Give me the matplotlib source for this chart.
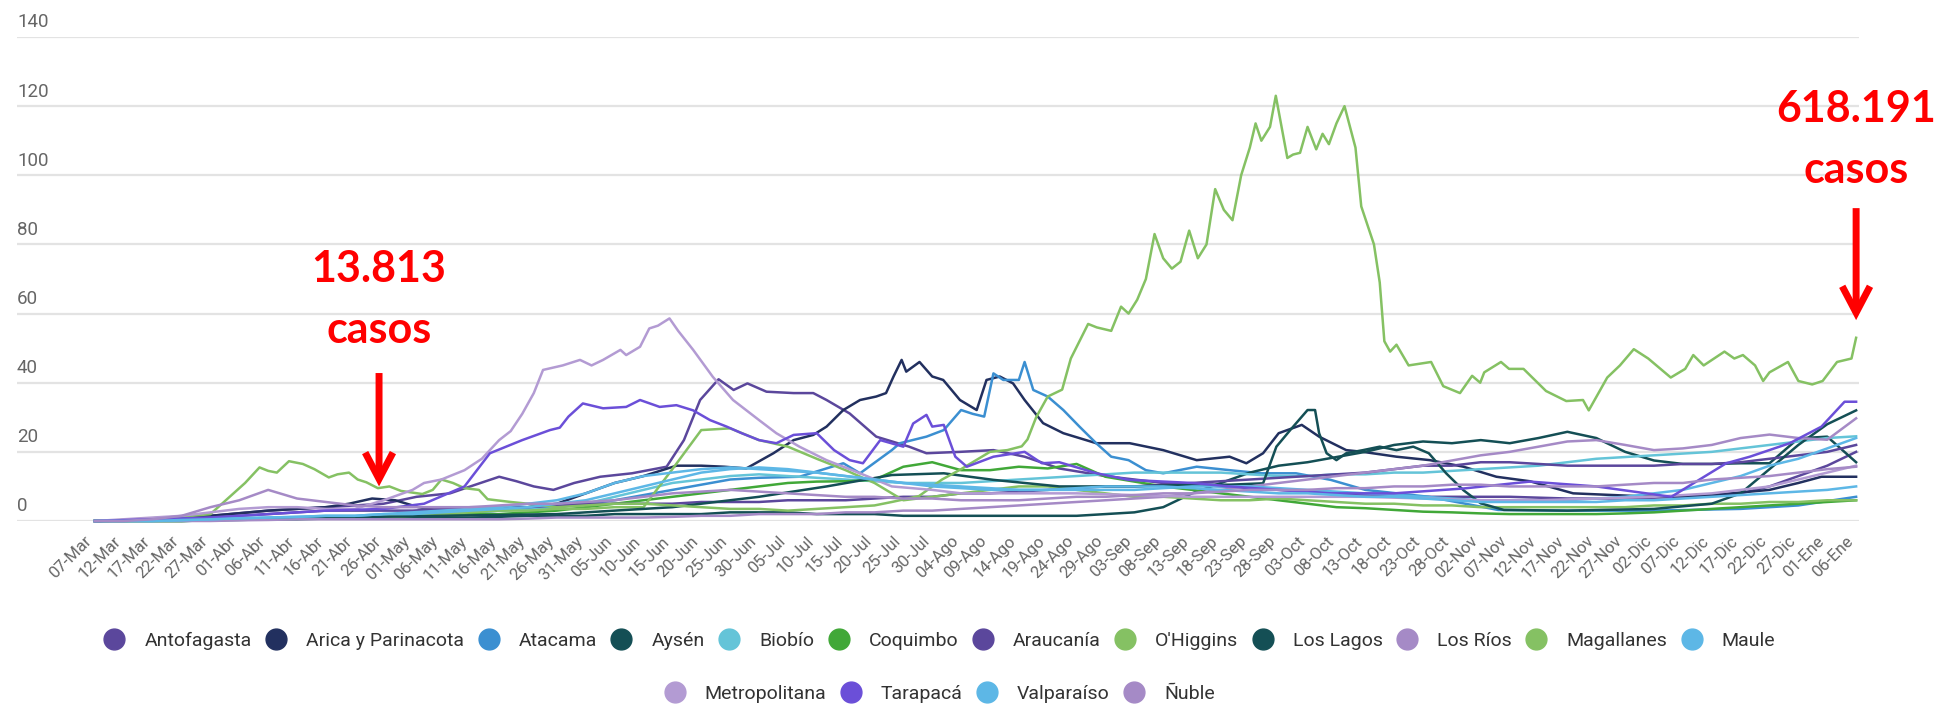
import matplotlib
matplotlib.use("Agg")
import matplotlib.pyplot as plt
from matplotlib.lines import Line2D
from matplotlib import font_manager as fm

# ---------------- data ----------------
etiquetas_x = ["07-Mar", "12-Mar", "17-Mar", "22-Mar", "27-Mar", "01-Abr", "06-Abr", "11-Abr", "16-Abr",
               "21-Abr", "26-Abr", "01-May", "06-May", "11-May", "16-May", "21-May", "26-May", "31-May",
               "05-Jun", "10-Jun", "15-Jun", "20-Jun", "25-Jun", "30-Jun", "05-Jul", "10-Jul", "15-Jul",
               "20-Jul", "25-Jul", "30-Jul", "04-Ago", "09-Ago", "14-Ago", "19-Ago", "24-Ago", "29-Ago",
               "03-Sep", "08-Sep", "13-Sep", "18-Sep", "23-Sep", "28-Sep", "03-Oct", "08-Oct", "13-Oct",
               "18-Oct", "23-Oct", "28-Oct", "02-Nov", "07-Nov", "12-Nov", "17-Nov", "22-Nov", "27-Nov",
               "02-Dic", "07-Dic", "12-Dic", "17-Dic", "22-Dic", "27-Dic", "01-Ene", "06-Ene"]
dias_etiquetas = list(range(0, 306, 5))
dias = list(range(0, 306, 5))  # common 5-day grid for the smaller series

y_ticks = [0, 20, 40, 60, 80, 100, 120, 140]

regiones = ["Antofagasta", "Arica y Parinacota", "Atacama", "Aysén", "Biobío", "Coquimbo", "Araucanía",
            "O'Higgins", "Los Lagos", "Los Ríos", "Magallanes", "Maule", "Metropolitana", "Tarapacá",
            "Valparaíso", "Ñuble"]
colores = ["#5b479c", "#22305f", "#3b8fd1", "#144f55", "#64c4d8", "#41a838", "#5b479c", "#85c163",
           "#144f55", "#a58ac6", "#85c163", "#5db7e6", "#b39bd3", "#6b4fd8", "#5db7e6", "#a58ac6"]

antofagasta_dias = [0, 10, 20, 30, 40, 45, 50, 55.7, 61.5, 65, 70, 73, 76, 79.4, 83, 87.5, 93, 99, 102, 104.8,
                    108, 110.6, 113, 116.3, 121, 124.4, 126.7, 130.7, 135.3, 141, 144, 149.8, 155.6, 161, 167,
                    175, 185, 195, 205, 215, 225, 235, 245, 255, 265, 275, 285, 290, 295, 300, 305]
antofagasta = [0, 0.5, 1.5, 3, 4, 4.5, 5, 7, 8, 10, 12.8, 11.5, 10, 9, 11, 12.8, 13.8, 15.7, 23.4, 35,
               41, 37.9, 39.8, 37.4, 37, 37, 35, 31.1, 24.4, 21.5, 19.6, 20, 20.5, 18.6, 15.2,
               13, 11, 10, 9, 8, 7, 7, 7, 6.5, 6.5, 7, 8, 10, 13, 16, 20]

arica_dias = [0, 10, 20, 30, 40, 44, 48, 52, 56, 60, 70, 80, 85, 90, 95, 100.7, 105, 109, 112.8, 117.5, 121,
              124.4, 126.7, 129.6, 132.5, 135.3, 137, 138.3, 139.7, 140.5, 142.8, 145, 146.9, 149.8, 152.7,
              154.4, 156.7, 159, 161, 164.2, 167.7, 173.4, 179.2, 185, 190.8, 196.5, 199.4, 202.3, 205, 209,
              212, 216.7, 219.6, 225.4, 231.2, 237, 242.7, 248.5, 256, 270, 280, 290, 295, 299, 305]
arica = [0, 0.5, 1.5, 3, 4, 5, 6.5, 6, 4, 3, 3, 5, 8, 11, 13, 16, 16, 15.7, 15.2, 19.6, 23.4,
         24.9, 27.3, 32.1, 35, 36, 37, 41.8, 46.6, 43.2, 46, 41.8, 40.8, 35, 32.1,
         40.8, 41.8, 39.8, 35, 28.3, 25.4, 22.5, 22.5, 20.5, 17.6, 18.6, 16.7, 19.6, 25.4, 27.8,
         24.4, 20.5, 20, 18.6, 17.6, 15.7, 12.8, 11.5, 8, 7, 7.5, 9, 11, 12.8, 12.8]

atacama_dias = [0, 20, 40, 60, 80, 90, 100, 110, 115, 122, 129.6, 132.5, 138, 139.4, 144, 147, 150, 152, 154,
                155.6, 157.3, 160, 161, 162.5, 165, 167.7, 170.5, 173.4, 176, 179, 182, 185, 190.8, 196.5,
                202, 208, 214, 220, 231, 243, 255, 270, 285, 295, 305]
atacama = [0, 0.5, 1, 2, 4, 6, 9, 12, 12.5, 12.8, 16.7, 13.8, 20.5, 22.5, 24.4, 26.3, 32.1, 31, 30.2,
           42.7, 40.8, 40.8, 46, 37.9, 36, 32.1, 27.3, 22.5, 18.6, 17.6, 14.7, 13.8, 15.7, 14.7,
           13.8, 13.8, 11.9, 9, 7, 3.2, 3, 3, 3.5, 4.5, 7]

aysen = [0, 0, 0, 0, 0.2, 0.3, 0.5, 0.5, 0.7, 0.8, 1, 1, 1, 1, 1.2, 1.5, 1.5, 1.5, 2, 2,
         2, 2, 2.5, 2.5, 2.5, 2, 2, 2, 1.5, 1.5, 1.5, 1.5, 1.5, 1.5, 1.5, 2, 2.5, 4, 8, 11,
         14, 16, 17, 18.5, 20, 22, 23, 22.5, 23.4, 22.5, 24, 25.8, 24, 20, 17.5, 16.5, 16.5, 16.7, 16.7, 23.9,
         24.4, 17]

biobio = [0, 0, 0, 0, 0.2, 0.5, 0.8, 1, 1, 1.2, 1.5, 2, 2, 2.5, 3, 3.5, 4, 5, 7, 9,
          11, 12, 13, 13.5, 13, 12.5, 12, 11.5, 11, 11, 11, 11.5, 12, 12.5, 13, 13.5, 14, 14, 14, 14,
          13.5, 13, 13, 13.5, 13.5, 14, 14, 14.5, 15, 15.5, 16, 17, 18, 18.5, 19, 19.5, 20, 21, 22, 23,
          24, 24.5]

coquimbo = [0, 0, 0, 0, 0.3, 0.5, 0.7, 1, 1, 1, 1.2, 1.5, 1.5, 2, 2, 2.5, 3, 4, 5, 6,
            7, 8, 9, 10, 11, 11.4, 11.5, 11.9, 15.7, 17, 14.7, 14.7, 15.7, 15.2, 16.5, 12.8, 11.4, 10, 9, 8,
            7, 6, 5, 4, 3.7, 3.2, 2.7, 2.5, 2.2, 2, 2, 2, 2, 2.2, 2.5, 3, 3.5, 4, 4.5, 5,
            5.5, 6]

araucania = [0, 0, 0.3, 0.5, 1, 1.5, 2, 2.5, 3, 3, 3, 3, 3.5, 4, 4, 4, 4.5, 5, 5, 5,
             5, 5.5, 5.5, 5.5, 6, 6, 6, 6.5, 7, 7, 8, 8, 8.5, 9, 9.5, 10, 10, 10.5, 11, 11.5,
             12, 12.5, 13, 13.5, 14, 15, 16, 16, 17, 17, 16.5, 16, 16, 16, 16, 16.5, 16.5, 17, 18, 19,
             20, 22]

ohiggins = [0, 0, 0, 0, 0.2, 0.5, 0.8, 1, 1, 1, 1.2, 1.5, 2, 2.5, 3, 3, 3.5, 3.5, 4, 4,
            15, 26.3, 26.8, 23.4, 21.5, 18, 14.7, 11, 6, 7, 8, 9, 10, 10, 9, 8, 7, 7, 6.5, 6,
            6, 6.5, 6, 5.5, 5, 5, 4.5, 4.5, 4, 4, 4, 4, 4, 4, 4.5, 4.5, 5, 5, 5.5, 5.5,
            6, 6]

los_lagos_dias = [0, 20, 40, 60, 80, 100, 115, 126.7, 138, 147, 155.6, 167, 180, 190, 196.5, 202.3, 204.6, 207,
                  210, 211.3, 212, 213.3, 215, 216.7, 219.6, 222.5, 225.4, 228.3, 231, 234, 237, 240, 244,
                  255, 270, 280, 285, 290, 295, 300, 305]
los_lagos = [0, 0.5, 1, 1.5, 2, 4, 7, 10, 13.3, 13.8, 11.9, 10, 10, 10.5, 10.5, 10.9, 21.5, 26.3,
             32.1, 32.1, 25.4, 19.6, 17.6, 19.6, 20.5, 21.5, 20.5, 21.5, 19.6, 13.8, 8.9, 5.1, 3.2,
             3, 3.5, 5, 8, 15, 22, 28, 32]

los_rios = [0, 0, 0, 0, 0, 0.2, 0.3, 0.5, 0.5, 0.5, 0.5, 0.5, 0.5, 0.5, 0.5, 0.7, 1, 1, 1, 1,
            1.2, 1.5, 1.5, 2, 2, 2, 2.5, 2.5, 3, 3, 3.5, 4, 4.5, 5, 5.5, 6, 6.5, 7, 8, 9,
            10, 11, 12, 13, 14, 15, 16, 17.5, 19, 20, 21.5, 23, 23.4, 22, 20.5, 21, 22, 24, 25, 24,
            23.5, 29.7]

magallanes_dias = [0, 5, 10, 15, 20, 22, 24, 26, 28.5, 30, 31.5, 33.6, 36, 38, 40.5, 42, 44, 45.5, 47, 49, 51,
                   53, 56.7, 58.5, 60, 62, 64, 66.5, 68, 72, 75, 80, 85, 90, 95, 100, 105, 110, 115, 120,
                   125, 130, 135, 138, 142.7, 146.7, 150, 155, 158, 160.5, 161.5, 163, 165, 167.5, 169, 172,
                   173.5, 176, 177.7, 179, 180.5, 182, 183.5, 185, 186.5, 188, 189.5, 191, 192.5, 194, 195.5,
                   197, 198.5, 200, 201, 202, 203.5, 204.5, 206.5, 207.5, 208.7, 210, 211.5, 212.6, 213.7,
                   215, 216.4, 218.3, 219.3, 221.5, 222.5, 223.3, 224.3, 225.4, 227.5, 231.4, 233.5, 236.4,
                   238.5, 239.9, 240.6, 243.5, 244.9, 247.4, 251.3, 254.8, 257.7, 258.7, 261.9, 264.1, 266.5,
                   269, 272.9, 275.4, 276.8, 278.6, 282.2, 283.9, 285.4, 287.5, 288.9, 290, 293.2, 295, 297.4,
                   299.2, 301.7, 304.2, 305]
magallanes = [0, 0.3, 0.8, 1.2, 2, 5, 8, 11, 15.5, 14.5, 14, 17.3, 16.5, 15, 12.6, 13.5, 14, 12, 11.2, 9.5, 10,
              8.7, 7.8, 9, 12, 11, 9.5, 9, 6.3, 5.5, 5, 4, 4.5, 5, 5, 4.5, 4, 3.5, 3.5, 3,
              3.5, 4, 4.5, 5.5, 7.2, 12, 15, 20, 20.5, 21.6, 23.6, 30, 36, 38, 47, 57,
              56, 55, 62, 60, 64, 70, 83, 76, 73, 75, 84, 76, 80, 96, 90,
              87, 100, 108, 115, 110, 114, 123, 105, 106, 106.5, 114, 107.5, 112, 109,
              115, 120, 108, 91, 80, 69, 52, 49, 51, 45, 46, 39, 37,
              42, 40, 43, 46, 44, 44, 37.6, 34.7, 35, 32, 41.5, 45, 49.7,
              47, 41.5, 44, 48, 45, 49, 47, 48, 45, 40.5, 43, 46, 40.5, 39.5,
              40.5, 46, 47, 53]

maule = [0, 0, 0, 0.2, 0.5, 0.8, 1, 1.2, 1.5, 1.5, 2, 2, 2.5, 3, 3.5, 4, 5, 6, 8, 10,
         12, 14, 15, 15.5, 15, 14, 13, 12, 11, 10.5, 10, 9.5, 9, 9, 9, 9, 9, 9.5, 10, 10,
         10, 9.5, 9, 8.5, 8, 7.5, 7, 6.5, 6, 6, 6, 6, 6.5, 7, 8, 9, 11, 13, 16, 18,
         21, 24]

metropolitana_dias = [0, 5, 10, 15, 20, 25, 30, 35, 40, 45, 50, 55, 57, 60, 64, 67, 70, 72, 74, 76, 77.6, 81, 84,
                      86, 88, 91, 92, 94.4, 96, 97.5, 99.5, 101, 103.6, 107, 110.5, 115, 118, 122, 126.7, 132.5,
                      138, 145, 150, 160, 170, 180, 190, 200, 210, 220, 230, 240, 250, 260, 270, 280, 290, 295,
                      300, 305]
metropolitana = [0, 0.5, 1, 1.5, 2.5, 3.5, 4, 4, 3.5, 3.5, 6, 9, 11, 12, 14.7, 18, 23.4, 26, 31, 37, 43.7, 45,
                 46.6, 45, 46.6, 49.5, 48, 50.4, 55.7, 56.5, 58.6, 55, 49.5, 41.7, 35, 29.2, 25.4, 21.5, 17.6,
                 13.8, 10, 9, 8, 8, 8, 7.5, 7, 7, 7, 7, 6.5, 6, 6, 6.5, 7, 8, 10, 12, 14, 16]

tarapaca_dias = [0, 10, 20, 30, 40, 50, 57, 64, 68.4, 74, 78.8, 80.5, 82, 84.5, 88, 92, 94.4, 97.8, 100.7, 103.6,
                 106.5, 109.4, 112, 115, 118, 121, 125, 128, 130.7, 133, 136, 140, 141.7, 144, 145, 147, 149, 151,
                 155.6, 161, 164, 167, 173.5, 179, 190, 196.5, 205, 214, 225, 237, 248.5, 260, 273, 282.5,
                 286.6, 293.5, 299, 303, 305]
tarapaca = [0, 0.5, 1, 2, 3, 3.5, 5, 10, 19.6, 23.4, 26.3, 27, 30.2, 34, 32.6, 33, 35, 33, 33.5, 32,
            29.2, 27.3, 25.4, 23.4, 22.5, 24.9, 25.4, 20.5, 17.6, 16.7, 23.4, 21.5, 28.2, 30.7, 27.3, 27.8,
            18.6, 15.7, 18.6, 20, 16.7, 17, 13.8, 11.9, 11, 10, 9, 8, 8, 9.4, 11.4, 10, 7, 16.7, 18.6, 22.5,
            27.3, 34.5, 34.5]

valparaiso = [0, 0, 0, 0.3, 0.5, 0.8, 1, 1.2, 1.5, 1.5, 2, 2.5, 3, 3.5, 4, 5, 6, 8, 11, 13,
              14, 15, 15.5, 15, 14.5, 14, 13, 12, 11, 10, 9.5, 9, 9, 9, 9.5, 10, 10, 10, 9.5, 9,
              8.5, 8, 8, 7.5, 7, 7, 6.5, 6, 5.5, 5.5, 5.5, 5.5, 5.5, 6, 6, 6.5, 7, 7.5, 8, 8.5,
              9, 10]

nuble = [0, 0, 0.5, 1.5, 4, 6, 9, 6.5, 5.5, 4.5, 4, 4, 4, 4, 4.5, 5, 5, 5.5, 6, 7,
         8, 8.5, 9, 8.5, 8, 7.5, 7, 7, 6.5, 6.5, 6, 6, 6, 6.5, 7, 7, 7.5, 8, 8, 8.5,
         9, 9, 9, 9.5, 9.5, 10, 10, 10.5, 10.5, 10, 10, 10, 10, 10.5, 11, 11, 12, 12.5, 13, 14,
         15, 15.7]

series = [
    (antofagasta_dias, antofagasta), (arica_dias, arica), (atacama_dias, atacama), (dias, aysen),
    (dias, biobio), (dias, coquimbo), (dias, araucania), (dias, ohiggins), (los_lagos_dias, los_lagos),
    (dias, los_rios), (magallanes_dias, magallanes), (dias, maule), (metropolitana_dias, metropolitana),
    (tarapaca_dias, tarapaca), (dias, valparaiso), (dias, nuble),
]

anotaciones = [("13.813", "casos", 49.2), ("618.191", "casos", 305)]


# ---------------- fonts ----------------
def pick(*names):
    for n in names:
        try:
            fm.findfont(fm.FontProperties(family=n), fallback_to_default=False)
            return n
        except Exception:
            pass
    return "DejaVu Sans"


f_axis = pick("Roboto", "Liberation Sans", "DejaVu Sans")
f_leg = pick("Liberation Sans Narrow", "Roboto", "DejaVu Sans")
f_ann = pick("Lato", "Open Sans", "DejaVu Sans")

# ---------------- figure ----------------
W, H, DPI = 1939, 706, 100
fig = plt.figure(figsize=(W / DPI, H / DPI), dpi=DPI)
fig.patch.set_facecolor("white")
ax = fig.add_axes([17 / W, 1 - 521 / H, (1859 - 17) / W, (521 - 37) / H])
ax.set_xlim(-13.5, 305.5)
ax.set_ylim(0, 140)

for yv in y_ticks:
    ax.axhline(yv, color="#e3e3e3", lw=1.6, zorder=0)
    ax.annotate(str(yv), xy=(0, yv), xycoords=("axes fraction", "data"),
                xytext=(0, 4), textcoords="offset points", ha="left", va="bottom",
                fontsize=13.5, color="#666666", family=f_axis)

for (xd, yd), c in zip(series, colores):
    ax.plot(xd, yd, color=c, lw=1.8, solid_joinstyle="round", clip_on=False, zorder=2)

ax.set_xticks(dias_etiquetas)
ax.set_xticklabels(etiquetas_x, rotation=45, ha="right", va="top", fontsize=12,
                   color="#666666", family=f_axis)
ax.tick_params(axis="x", length=0, pad=9)
ax.set_yticks([])
for s in ax.spines.values():
    s.set_visible(False)

# annotations
red = "#ff0000"
arrow = dict(arrowstyle="->,head_length=1.9,head_width=1.0", color=red, lw=5,
             shrinkA=0, shrinkB=0, capstyle="butt", joinstyle="miter")
(t1, c1, d1), (t2, c2, d2) = anotaciones
ax.text(d1, 69.1, t1, ha="center", va="baseline", fontsize=31, fontweight="bold", color=red, family=f_ann)
ax.text(d1, 51.5, c1, ha="center", va="baseline", fontsize=31, fontweight="bold", color=red, family=f_ann)
ax.annotate("", xy=(d1, 10), xytext=(d1, 42.8), xycoords="data", arrowprops=arrow)
ax.text(d2, 115.4, t2, ha="center", va="baseline", fontsize=31, fontweight="bold", color=red, family=f_ann,
        clip_on=False)
ax.text(d2, 97.8, c2, ha="center", va="baseline", fontsize=31, fontweight="bold", color=red, family=f_ann,
        clip_on=False)
ax.annotate("", xy=(d2, 58.1), xytext=(d2, 90.5), xycoords="data", arrowprops=arrow)

# legend
handles = [Line2D([], [], ls="none", marker="o", markersize=15, markerfacecolor=c, markeredgecolor=c)
           for c in colores]
common = dict(frameon=False, handlelength=1.0, handletextpad=1.05, columnspacing=0.75,
              prop={"family": f_leg, "size": 14}, labelcolor="#333333", borderaxespad=0, borderpad=0)
leg1 = fig.legend(handles[:12], regiones[:12], loc="center", ncol=12,
                  bbox_to_anchor=(940 / W, 1 - 641 / H), **common)
leg2 = fig.legend(handles[12:], regiones[12:], loc="center", ncol=4,
                  bbox_to_anchor=(940 / W, 1 - 694 / H), **common)

fig.savefig("out.png", dpi=DPI, facecolor="white")
